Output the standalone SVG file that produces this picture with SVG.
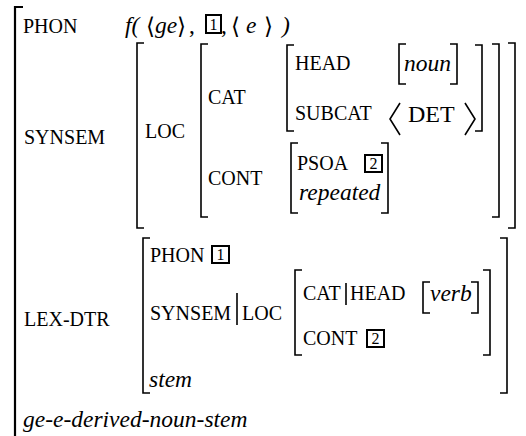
<svg xmlns="http://www.w3.org/2000/svg" width="526" height="436" viewBox="0 0 526 436">
<style>
text{font-family:'Liberation Serif','Times New Roman',Tinos,Times,serif;fill:#000}
.f{font-size:20px}
.v{font-size:23.5px;font-style:italic}
.r{font-size:23.5px}
.ang{font-size:23px;font-family:'DejaVu Serif','Liberation Serif',serif}
.n{font-size:16px;text-anchor:middle}
.br{fill:none;stroke:#000;stroke-width:1.6}
.ob{fill:none;stroke:#000;stroke-width:2.2}
.bx{fill:#fff;stroke:#000;stroke-width:2}
</style>
<rect width="526" height="436" fill="#fff"/>

<g id="outer">
<path class="ob" d="M23,7 H15 V436"/>
<text class="v" x="23" y="427">ge-e-derived-noun-stem</text>
</g>

<g id="phon">
<text class="f" x="23" y="33">PHON</text>
<text class="v" x="125" y="33">f(</text>
<text class="ang" x="146" y="34">⟨</text>
<text class="v" x="155" y="33">ge</text>
<text class="ang" x="177" y="34">⟩</text>
<text class="r" x="189" y="33">,</text>
<rect class="bx" x="206" y="15" width="15" height="18"/>
<text class="n" x="213.5" y="30">1</text>
<text class="r" x="221" y="33">,</text>
<text class="ang" x="231" y="34">⟨</text>
<text class="v" x="246" y="33">e</text>
<text class="ang" x="264" y="34">⟩</text>
<text class="v" x="282" y="33">)</text>
</g>

<g id="synsem">
<text class="f" x="24" y="144">SYNSEM</text>
<path class="br" d="M144,43 H137 V228 H144"/>
<path class="br" d="M508,43 H515 V228 H508"/>
</g>

<g id="loc">
<text class="f" x="145" y="138">LOC</text>
<path class="br" d="M208,44 H201 V217 H208"/>
<path class="br" d="M492,44 H499 V217 H492"/>
</g>

<g id="cat">
<text class="f" x="208" y="104">CAT</text>
<path class="br" d="M294,45 H287 V131 H294"/>
<path class="br" d="M475,45 H482 V131 H475"/>
<text class="f" x="295" y="70">HEAD</text>
<path class="br" d="M406,44 H399 V84 H406"/>
<path class="br" d="M450,44 H457 V84 H450"/>
<text class="v" x="404" y="71">noun</text>
<text class="f" x="295" y="120">SUBCAT</text>
<path class="br" d="M400,103 L390,119 L400,135"/>
<text class="r" x="408" y="122" style="font-size:24px">DET</text>
<path class="br" d="M465,103 L475,119 L465,135"/>
</g>

<g id="cont">
<text class="f" x="208" y="185">CONT</text>
<path class="br" d="M298,143 H291 V213 H298"/>
<path class="br" d="M381,143 H388 V213 H381"/>
<text class="f" x="297" y="170">PSOA</text>
<rect class="bx" x="365" y="155" width="17" height="17"/>
<text class="n" x="373.5" y="169">2</text>
<text class="v" x="299" y="200">repeated</text>
</g>

<g id="lexdtr">
<text class="f" x="24" y="326">LEX-DTR</text>
<path class="br" d="M150,238 H143 V393 H150"/>
<path class="br" d="M500,238 H507 V393 H500"/>
<text class="f" x="150" y="262">PHON</text>
<rect class="bx" x="212" y="246" width="17" height="17"/>
<text class="n" x="220.5" y="260">1</text>
<text class="f" x="150" y="320">SYNSEM</text>
<line class="br" x1="237" y1="293" x2="237" y2="325"/>
<text class="f" x="242" y="320">LOC</text>
<text class="v" x="149" y="387">stem</text>
</g>

<g id="lexloc">
<path class="br" d="M302,270 H295 V355 H302"/>
<path class="br" d="M483,270 H490 V355 H483"/>
<text class="f" x="303" y="300">CAT</text>
<line class="br" x1="346" y1="283" x2="346" y2="305"/>
<text class="f" x="350" y="300">HEAD</text>
<path class="br" d="M430,282 H423 V313 H430"/>
<path class="br" d="M471,282 H478 V313 H471"/>
<text class="v" x="430" y="301">verb</text>
<text class="f" x="303" y="345">CONT</text>
<rect class="bx" x="367" y="330" width="17" height="17"/>
<text class="n" x="375.5" y="344">2</text>
</g>
</svg>
